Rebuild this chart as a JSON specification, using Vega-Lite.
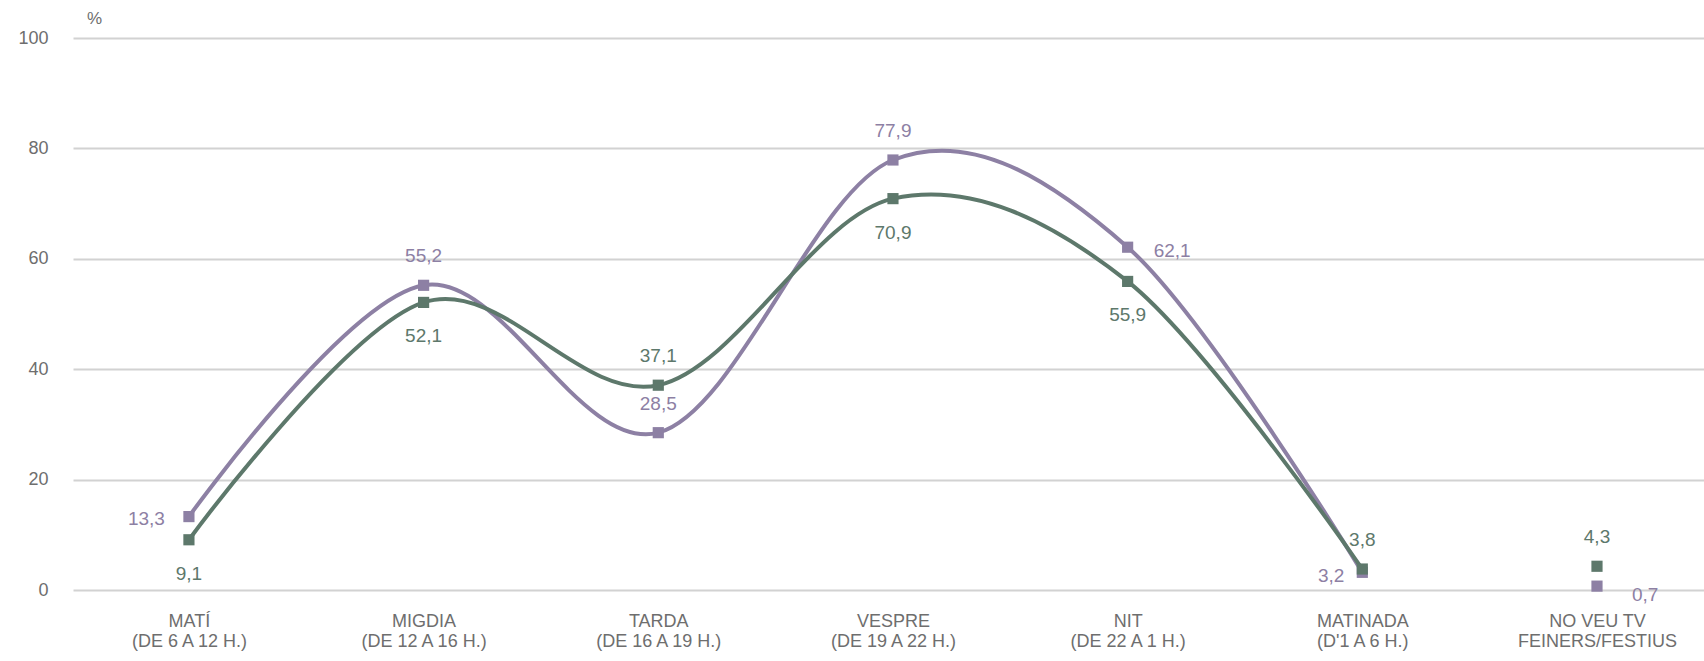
{
  "$schema": "https://vega.github.io/schema/vega-lite/v6.json",
  "width": 1631,
  "height": 552,
  "autosize": {"type": "none"},
  "padding": {"left": 73, "top": 38, "right": 0, "bottom": 71},
  "background": "white",
  "config": {
    "view": {"stroke": null},
    "font": "Liberation Sans",
    "locale": {"number": {"decimal": ",", "thousands": ".", "grouping": [3], "currency": ["", " €"]}}
  },
  "data": {
    "values": [
      {"franja": "MATÍ|(DE 6 A 12 H.)", "serie": "Festius", "valor": 13.3},
      {"franja": "MIGDIA|(DE 12 A 16 H.)", "serie": "Festius", "valor": 55.2},
      {"franja": "TARDA|(DE 16 A 19 H.)", "serie": "Festius", "valor": 28.5},
      {"franja": "VESPRE|(DE 19 A 22 H.)", "serie": "Festius", "valor": 77.9},
      {"franja": "NIT|(DE 22 A 1 H.)", "serie": "Festius", "valor": 62.1},
      {"franja": "MATINADA|(D'1 A 6 H.)", "serie": "Festius", "valor": 3.2},
      {"franja": "NO VEU TV|FEINERS/FESTIUS", "serie": "Festius", "valor": 0.7},
      {"franja": "MATÍ|(DE 6 A 12 H.)", "serie": "Feiners", "valor": 9.1},
      {"franja": "MIGDIA|(DE 12 A 16 H.)", "serie": "Feiners", "valor": 52.1},
      {"franja": "TARDA|(DE 16 A 19 H.)", "serie": "Feiners", "valor": 37.1},
      {"franja": "VESPRE|(DE 19 A 22 H.)", "serie": "Feiners", "valor": 70.9},
      {"franja": "NIT|(DE 22 A 1 H.)", "serie": "Feiners", "valor": 55.9},
      {"franja": "MATINADA|(D'1 A 6 H.)", "serie": "Feiners", "valor": 3.8},
      {"franja": "NO VEU TV|FEINERS/FESTIUS", "serie": "Feiners", "valor": 4.3}
    ]
  },
  "encoding": {
    "x": {
      "field": "franja", "type": "nominal", "sort": null,
      "scale": {"type": "point", "padding": 0.475, "align": 0.52},
      "axis": {
        "title": null, "domain": false, "ticks": false, "grid": false,
        "labelAngle": 0, "labelExpr": "split(datum.label, '|')",
        "labelFontSize": 18, "labelColor": "#6e6e6e", "labelPadding": 22,
        "labelLineHeight": 20, "labelBaseline": "top", "labelFont": "Liberation Sans"
      }
    },
    "y": {
      "field": "valor", "type": "quantitative",
      "scale": {"domain": [0, 100], "nice": false},
      "axis": {
        "values": [0, 20, 40, 60, 80, 100], "domain": false, "ticks": false,
        "gridColor": "#d2d2d2", "gridWidth": 2,
        "labelFontSize": 18, "labelColor": "#6e6e6e", "labelPadding": 25,
        "title": "%", "titleAngle": 0, "titleX": 21, "titleY": -20,
        "titleAlign": "center", "titleBaseline": "middle",
        "titleFontSize": 17, "titleFontWeight": "normal", "titleColor": "#6e6e6e"
      }
    },
    "color": {
      "field": "serie", "type": "nominal",
      "scale": {"domain": ["Feiners", "Festius"], "range": ["#5d786b", "#8d80a4"]},
      "legend": null
    }
  },
  "layer": [
    {
      "transform": [{"filter": "!test(/^NO VEU/, datum.franja)"}],
      "mark": {"type": "line", "interpolate": "cardinal", "strokeWidth": 4},
      "encoding": {"order": {"field": "serie", "sort": "descending"}}
    },
    {
      "transform": [{"filter": "datum.serie == 'Festius'"}],
      "mark": {"type": "point", "shape": "square", "filled": true, "size": 125, "opacity": 1}
    },
    {
      "transform": [{"filter": "datum.serie == 'Feiners'"}],
      "mark": {"type": "point", "shape": "square", "filled": true, "size": 125, "opacity": 1}
    },
    {
      "transform": [{"filter": "(datum.serie == 'Festius' && test(/^(MIGDIA|VESPRE|TARDA)/, datum.franja)) || (datum.serie == 'Feiners' && test(/^(TARDA|MATINADA|NO VEU)/, datum.franja))"}],
      "mark": {"type": "text", "dy": -29, "fontSize": 19, "align": "center", "baseline": "middle"},
      "encoding": {"text": {"field": "valor", "type": "quantitative", "format": ".1f"}}
    },
    {
      "transform": [{"filter": "datum.serie == 'Feiners' && test(/^(MATÍ|MIGDIA|VESPRE|NIT)/, datum.franja)"}],
      "mark": {"type": "text", "dy": 34, "fontSize": 19, "align": "center", "baseline": "middle"},
      "encoding": {"text": {"field": "valor", "type": "quantitative", "format": ".1f"}}
    },
    {
      "transform": [{"filter": "datum.serie == 'Festius' && test(/^MATÍ/, datum.franja)"}],
      "mark": {"type": "text", "dx": -24, "dy": 2, "fontSize": 19, "align": "right", "baseline": "middle"},
      "encoding": {"text": {"field": "valor", "type": "quantitative", "format": ".1f"}}
    },
    {
      "transform": [{"filter": "datum.serie == 'Festius' && test(/^MATINADA/, datum.franja)"}],
      "mark": {"type": "text", "dx": -18, "dy": 4, "fontSize": 19, "align": "right", "baseline": "middle"},
      "encoding": {"text": {"field": "valor", "type": "quantitative", "format": ".1f"}}
    },
    {
      "transform": [{"filter": "datum.serie == 'Festius' && test(/^NIT/, datum.franja)"}],
      "mark": {"type": "text", "dx": 26, "dy": 4, "fontSize": 19, "align": "left", "baseline": "middle"},
      "encoding": {"text": {"field": "valor", "type": "quantitative", "format": ".1f"}}
    },
    {
      "transform": [{"filter": "datum.serie == 'Festius' && test(/^NO VEU/, datum.franja)"}],
      "mark": {"type": "text", "dx": 35, "dy": 9, "fontSize": 19, "align": "left", "baseline": "middle"},
      "encoding": {"text": {"field": "valor", "type": "quantitative", "format": ".1f"}}
    }
  ]
}
